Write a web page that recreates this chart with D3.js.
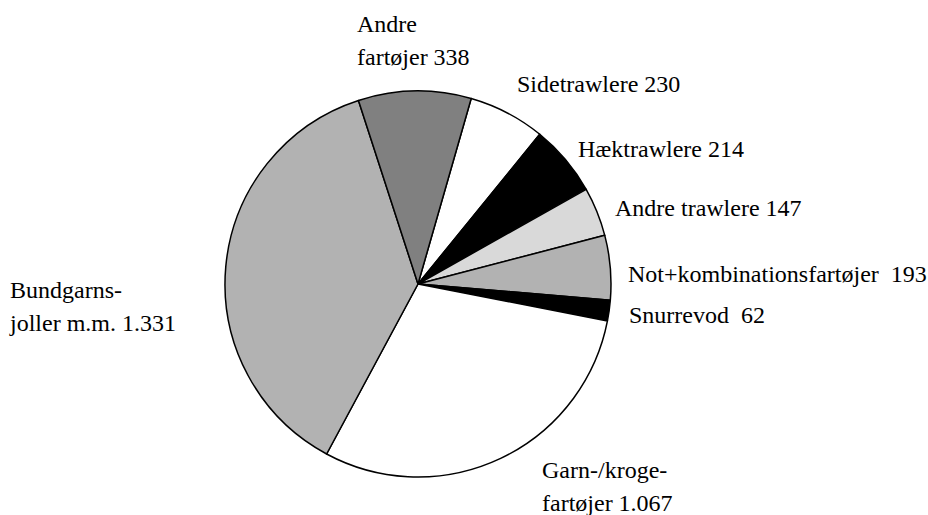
<!DOCTYPE html>
<html>
<head>
<script src="https://cdn.jsdelivr.net/npm/d3@7"></script>
</head>
<body style="margin:0">
<div id="chart"></div>
<script>
// data
var categories = ["Sidetrawlere", "H\u00e6ktrawlere", "Andre trawlere", "Not+kombinationsfart\u00f8jer",
                  "Snurrevod", "Garn-/krogefart\u00f8jer", "Bundgarnsjoller m.m.", "Andre fart\u00f8jer"];
var values = [230, 214, 147, 193, 62, 1067, 1331, 338];
var labelLines = [
    ["Sidetrawlere 230"],
    ["H\u00e6ktrawlere 214"],
    ["Andre trawlere 147"],
    ["Not+kombinationsfart\u00f8jer \u00a0193"],
    ["Snurrevod \u00a062"],
    ["Garn-/kroge-", "fart\u00f8jer 1.067"],
    ["Bundgarns-", "joller m.m. 1.331"],
    ["Andre", "fart\u00f8jer 338"]
];
var fills = ["#ffffff", "#000000", "#d9d9d9", "#b2b2b2", "#000000", "#ffffff", "#b2b2b2", "#808080"];

// label placement (left x, first baseline y)
var labelPos = [[517, 92], [578, 157], [615, 216], [628, 282], [629, 323], [542, 478], [10, 298], [357, 32]];

var width = 928, height = 515;
var cx = 418, cy = 284, radius = 193;

var svg = d3.select("#chart").append("svg")
    .attr("width", width)
    .attr("height", height)
    .style("display", "block");

var pie = d3.pie()
    .sort(null)
    .startAngle(16 * Math.PI / 180)
    .endAngle(16 * Math.PI / 180 + 2 * Math.PI)
    .value(function(d) { return d; });

var arc = d3.arc()
    .innerRadius(0)
    .outerRadius(radius);

var g = svg.append("g")
    .attr("transform", "translate(" + cx + "," + cy + ")");

g.selectAll("path")
    .data(pie(values))
    .enter().append("path")
    .attr("d", arc)
    .attr("fill", function(d, i) { return fills[i]; })
    .attr("stroke", "#000")
    .attr("stroke-width", 1.5)
    .attr("stroke-linejoin", "round");

// one text element per line
var lineH = 32.5;
labelLines.forEach(function(lines, i) {
    lines.forEach(function(s, j) {
        svg.append("text")
            .attr("x", labelPos[i][0])
            .attr("y", labelPos[i][1] + j * lineH)
            .style("font-family", "Liberation Serif")
            .style("font-size", "24px")
            .text(s);
    });
});
</script>
</body>
</html>
